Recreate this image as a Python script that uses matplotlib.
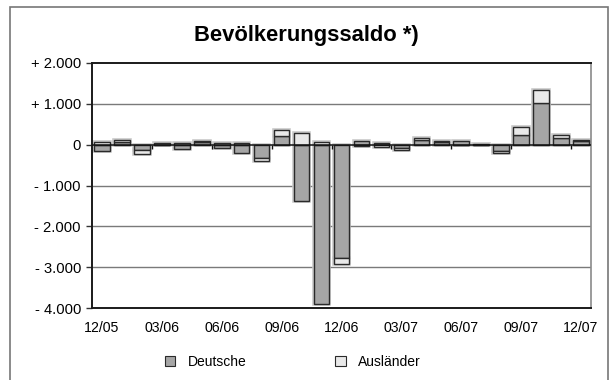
import matplotlib
matplotlib.use("Agg")
import matplotlib.pyplot as plt
from matplotlib.patches import Rectangle
import numpy as np

plt.rcParams['font.family'] = ['Liberation Sans', 'DejaVu Sans']

months = ["12/05", "01/06", "02/06", "03/06", "04/06", "05/06", "06/06", "07/06", "08/06",
          "09/06", "10/06", "11/06", "12/06", "01/07", "02/07", "03/07", "04/07", "05/07",
          "06/07", "07/07", "08/07", "09/07", "10/07", "11/07", "12/07"]
deutsche = [-165, 75, -140, 30, -115, 70, -80, -200, -335, 205, -1390, -3895, -2770,
            90, 50, -75, 115, 60, 100, 25, -145, 230, 1025, 175, 80]
auslaender = [55, 30, -95, -20, 50, 20, 40, 30, -65, 150, 275, 70, -145,
              -40, -60, -45, 50, 20, -20, -20, -55, 205, 315, 55, 30]
tick_labels = ["12/05", "03/06", "06/06", "09/06", "12/06", "03/07", "06/07", "09/07", "12/07"]
y_ticks = [2000, 1000, 0, -1000, -2000, -3000, -4000]
y_tick_labels = ["+ 2.000", "+ 1.000", "0", "- 1.000", "- 2.000", "- 3.000", "- 4.000"]

c_de = "#a6a6a6"
c_au = "#e9e9e9"
edge = "#2a2a2a"

fig = plt.figure(figsize=(6.16, 3.8), dpi=100)
ax = fig.add_axes([92/616, 1-308/380, (591-92)/616, (308-63)/380])

x = np.arange(len(months))
d = np.array(deutsche, dtype=float)
a = np.array(auslaender, dtype=float)
a_base = np.where(np.sign(a) == np.sign(d), d, 0.0)

w = 0.78
# soft halo
ax.bar(x, d, width=w, color="none", edgecolor="#c8c8c8", linewidth=2.6, zorder=2)
ax.bar(x, a, bottom=a_base, width=w, color="none", edgecolor="#c8c8c8", linewidth=2.6, zorder=2)
ax.bar(x, d, width=w, color=c_de, edgecolor=edge, linewidth=1.0, zorder=3, label="Deutsche")
ax.bar(x, a, bottom=a_base, width=w, color=c_au, edgecolor=edge, linewidth=1.0, zorder=3, label="Ausländer")

ax.set_xlim(-0.5, len(months) - 0.5)
ax.set_ylim(-4000, 2000)

for yv in [1000, -1000, -2000, -3000]:
    ax.axhline(yv, color="#7a7a7a", linewidth=1.0, zorder=1)
ax.axhline(0, color="#111111", linewidth=1.1, zorder=4)

# category-boundary tick marks at zero line
bounds = np.arange(-0.5, len(months) - 0.5, 3)
ax.vlines(bounds[1:], 0, -110, color="#111111", linewidth=1.0, zorder=4)

ax.set_yticks(y_ticks)
ax.set_yticklabels(y_tick_labels, fontsize=10.6)
label_pos = [months.index(m) for m in tick_labels]
ax.set_xticks(label_pos)
ax.set_xticklabels(tick_labels, fontsize=10.2)
ax.tick_params(axis="x", length=0, pad=9)
ax.tick_params(axis="y", length=4, width=1, direction="out", pad=4, color="#333333")

for s in ["top", "bottom", "left"]:
    ax.spines[s].set_color("#1a1a1a")
    ax.spines[s].set_linewidth(1.4)
ax.spines["right"].set_color("#8a8a8a")
ax.spines["right"].set_linewidth(1.2)

fig.text(306/616, 1-35/380, "Bevölkerungssaldo *)", ha="center", va="center",
         fontsize=15.8, fontweight="bold")

leg = fig.legend(loc="center", bbox_to_anchor=(293/616, 1-362/380), ncol=2, frameon=False,
                 fontsize=10, handlelength=0.75, handleheight=0.75, columnspacing=6.4,
                 handletextpad=0.9)
for h in leg.legend_handles:
    h.set_linewidth(0.8)

fig.patches.append(Rectangle((10/616, -0.05), (608-10)/616, 1.05 - 7/380,
                             transform=fig.transFigure, fill=False,
                             edgecolor="#777777", linewidth=1.2))

fig.savefig("out.png", dpi=100)
